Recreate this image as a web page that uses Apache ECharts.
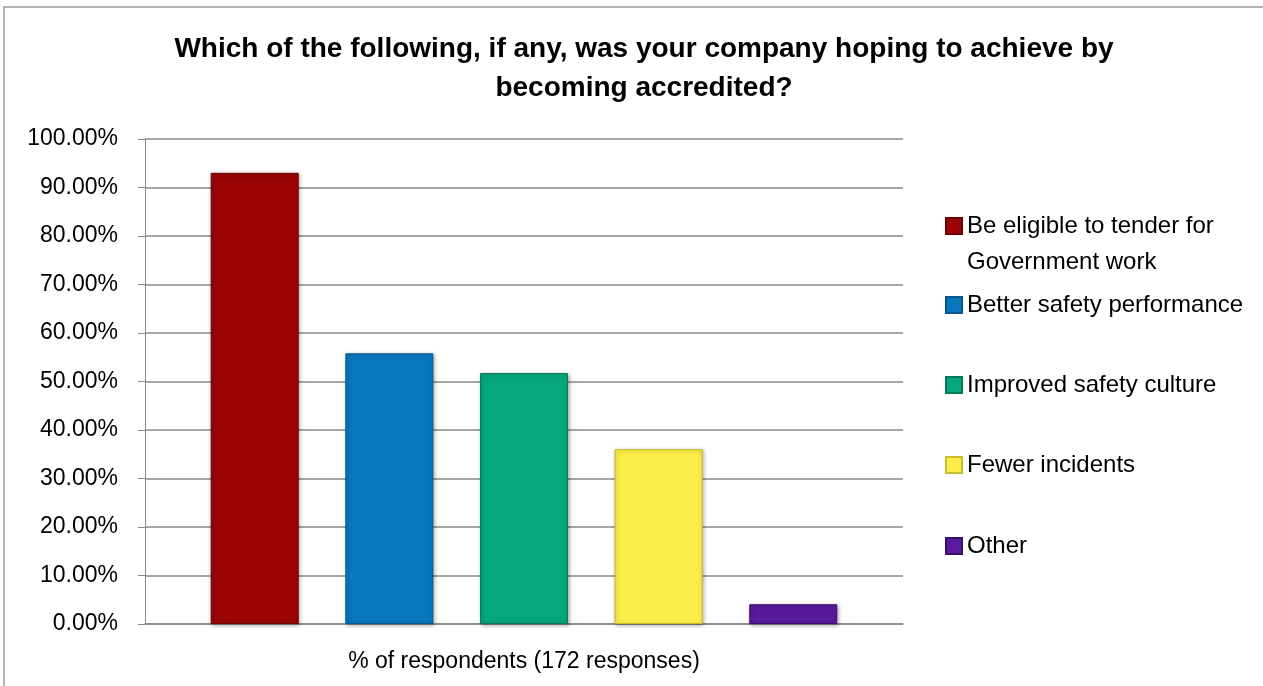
<!DOCTYPE html>
<html>
<head>
<meta charset="utf-8">
<script src="https://cdn.jsdelivr.net/npm/echarts@6/dist/echarts.min.js"></script>
<style>
  html, body { margin: 0; padding: 0; background: #fff; }
  #chart { width: 1263px; height: 686px; }
</style>
</head>
<body>
<div id="chart"></div>
<script>
// data (172 responses)
const category = ['% of respondents (172 responses)'];
const names = [
  'Be eligible to tender for Government work',
  'Better safety performance',
  'Improved safety culture',
  'Fewer incidents',
  'Other'
];
const values = [93.02, 55.81, 51.74, 36.05, 4.07];
const colors = ['#9b0404', '#0877bd', '#06a77a', '#fbee48', '#5a1a9c'];
const borders = ['#6e0202', '#05578c', '#047a58', '#c9bd2c', '#3a0f6a'];
const legendTops = [172, 293, 373, 453, 534];
const font = 'Liberation Sans, Arial, sans-serif';

const chart = echarts.init(document.getElementById('chart'));

const series = names.map((n, i) => ({
  name: n,
  type: 'bar',
  data: [values[i]],
  barWidth: 88,
  barGap: '53%',
  itemStyle: {
    color: colors[i],
    borderColor: borders[i],
    borderWidth: 1,
    shadowColor: 'rgba(0,0,0,0.35)',
    shadowBlur: 4,
    shadowOffsetX: 1,
    shadowOffsetY: 1
  }
}));

// one legend per entry so each can sit at its own height;
// the first one gets an empty leading line so the icon lines up with its first line
const legends = names.map((n, i) => ({
  data: [n],
  left: 945,
  top: legendTops[i],
  padding: 0,
  icon: 'rect',
  itemWidth: 16,
  itemHeight: 16,
  selectedMode: false,
  formatter: i === 0 ? () => '\nBe eligible to tender for\nGovernment work' : undefined,
  textStyle: {
    fontFamily: font,
    fontSize: 24,
    color: '#000',
    lineHeight: i === 0 ? 36 : 24
  }
}));

const option = {
  animation: false,
  title: {
    text: 'Which of the following, if any, was your company hoping to achieve by\nbecoming accredited?',
    left: 644,
    textAlign: 'center',
    top: 30,
    padding: 0,
    textStyle: {
      fontFamily: font,
      fontSize: 28,
      fontWeight: 'bold',
      color: '#000',
      lineHeight: 39
    }
  },
  legend: legends,
  grid: {
    left: 145,
    right: 360,
    top: 139,
    bottom: 62
  },
  xAxis: {
    type: 'category',
    data: category,
    axisLine: { lineStyle: { color: '#888', width: 1.5 } },
    axisTick: { show: false },
    axisLabel: {
      fontFamily: font,
      fontSize: 23,
      color: '#000',
      margin: 26
    }
  },
  yAxis: {
    type: 'value',
    min: 0,
    max: 100,
    interval: 10,
    axisLine: { show: true, lineStyle: { color: '#888', width: 1 } },
    axisTick: { show: true, length: 7, lineStyle: { color: '#888' } },
    axisLabel: {
      fontFamily: font,
      fontSize: 23,
      color: '#000',
      margin: 27,
      formatter: v => v.toFixed(2) + '%'
    },
    splitLine: { lineStyle: { color: '#888', width: 1.5 } }
  },
  graphic: [{
    type: 'rect',
    shape: { x: 4, y: 7, width: 1300, height: 720 },
    style: { fill: 'none', stroke: '#999', lineWidth: 1.5 },
    silent: true,
    z: -1
  }],
  series: series
};

chart.setOption(option);
</script>
</body>
</html>
